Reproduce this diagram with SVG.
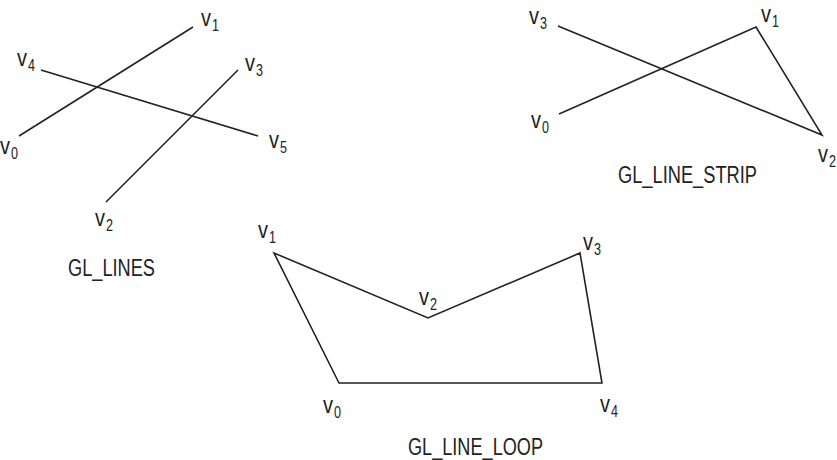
<svg xmlns="http://www.w3.org/2000/svg" width="837" height="460" viewBox="0 0 837 460">
<style>
.ln{fill:none;stroke:#222;stroke-width:1.6;stroke-linejoin:miter}
.lb{font-family:"Liberation Sans",Arial,sans-serif;font-size:24px;fill:#222}
.sb{font-family:"Liberation Sans",Arial,sans-serif;font-size:17px;fill:#222}
.tt{font-family:"Liberation Sans",Arial,sans-serif;font-size:23px;fill:#222}
</style>
<rect width="837" height="460" fill="#fff"/>
<g id="connectors">
  <line class="ln" x1="19" y1="136" x2="193" y2="27"/>
  <line class="ln" x1="41" y1="70" x2="258" y2="136"/>
  <line class="ln" x1="106" y1="202" x2="238" y2="70"/>
  <polyline class="ln" points="559,114 756,27 822,135 558,26"/>
  <polygon class="ln" points="339,383 274,253 428,318 580,253 602,383"/>
</g>
<g id="lines-v0"><text class="lb" x="0" y="154" textLength="10" lengthAdjust="spacingAndGlyphs">v</text><text class="sb" x="11" y="159" textLength="7" lengthAdjust="spacingAndGlyphs">0</text></g>
<g id="lines-v1"><text class="lb" x="201" y="26" textLength="10" lengthAdjust="spacingAndGlyphs">v</text><text class="sb" x="212" y="31" textLength="7" lengthAdjust="spacingAndGlyphs">1</text></g>
<g id="lines-v2"><text class="lb" x="95" y="226" textLength="10" lengthAdjust="spacingAndGlyphs">v</text><text class="sb" x="106" y="231" textLength="7" lengthAdjust="spacingAndGlyphs">2</text></g>
<g id="lines-v3"><text class="lb" x="245" y="71" textLength="10" lengthAdjust="spacingAndGlyphs">v</text><text class="sb" x="256" y="76" textLength="7" lengthAdjust="spacingAndGlyphs">3</text></g>
<g id="lines-v4"><text class="lb" x="17" y="66" textLength="10" lengthAdjust="spacingAndGlyphs">v</text><text class="sb" x="28" y="71" textLength="7" lengthAdjust="spacingAndGlyphs">4</text></g>
<g id="lines-v5"><text class="lb" x="269" y="148" textLength="10" lengthAdjust="spacingAndGlyphs">v</text><text class="sb" x="280" y="153" textLength="7" lengthAdjust="spacingAndGlyphs">5</text></g>
<g id="title-lines"><text class="tt" x="68" y="276" textLength="87" lengthAdjust="spacingAndGlyphs">GL_LINES</text></g>

<g id="strip-v0"><text class="lb" x="531" y="128" textLength="10" lengthAdjust="spacingAndGlyphs">v</text><text class="sb" x="542" y="133" textLength="7" lengthAdjust="spacingAndGlyphs">0</text></g>
<g id="strip-v1"><text class="lb" x="761" y="22" textLength="10" lengthAdjust="spacingAndGlyphs">v</text><text class="sb" x="772" y="27" textLength="7" lengthAdjust="spacingAndGlyphs">1</text></g>
<g id="strip-v2"><text class="lb" x="818" y="162" textLength="10" lengthAdjust="spacingAndGlyphs">v</text><text class="sb" x="829" y="167" textLength="7" lengthAdjust="spacingAndGlyphs">2</text></g>
<g id="strip-v3"><text class="lb" x="529" y="24" textLength="10" lengthAdjust="spacingAndGlyphs">v</text><text class="sb" x="540" y="29" textLength="7" lengthAdjust="spacingAndGlyphs">3</text></g>
<g id="title-strip"><text class="tt" x="618" y="183" textLength="139" lengthAdjust="spacingAndGlyphs">GL_LINE_STRIP</text></g>

<g id="loop-v0"><text class="lb" x="323" y="413" textLength="10" lengthAdjust="spacingAndGlyphs">v</text><text class="sb" x="334" y="418" textLength="7" lengthAdjust="spacingAndGlyphs">0</text></g>
<g id="loop-v1"><text class="lb" x="258" y="238" textLength="10" lengthAdjust="spacingAndGlyphs">v</text><text class="sb" x="269" y="243" textLength="7" lengthAdjust="spacingAndGlyphs">1</text></g>
<g id="loop-v2"><text class="lb" x="419" y="305" textLength="10" lengthAdjust="spacingAndGlyphs">v</text><text class="sb" x="430" y="310" textLength="7" lengthAdjust="spacingAndGlyphs">2</text></g>
<g id="loop-v3"><text class="lb" x="583" y="250" textLength="10" lengthAdjust="spacingAndGlyphs">v</text><text class="sb" x="594" y="255" textLength="7" lengthAdjust="spacingAndGlyphs">3</text></g>
<g id="loop-v4"><text class="lb" x="600" y="412" textLength="10" lengthAdjust="spacingAndGlyphs">v</text><text class="sb" x="611" y="417" textLength="7" lengthAdjust="spacingAndGlyphs">4</text></g>
<g id="title-loop"><text class="tt" x="408" y="455" textLength="135" lengthAdjust="spacingAndGlyphs">GL_LINE_LOOP</text></g>
</svg>
